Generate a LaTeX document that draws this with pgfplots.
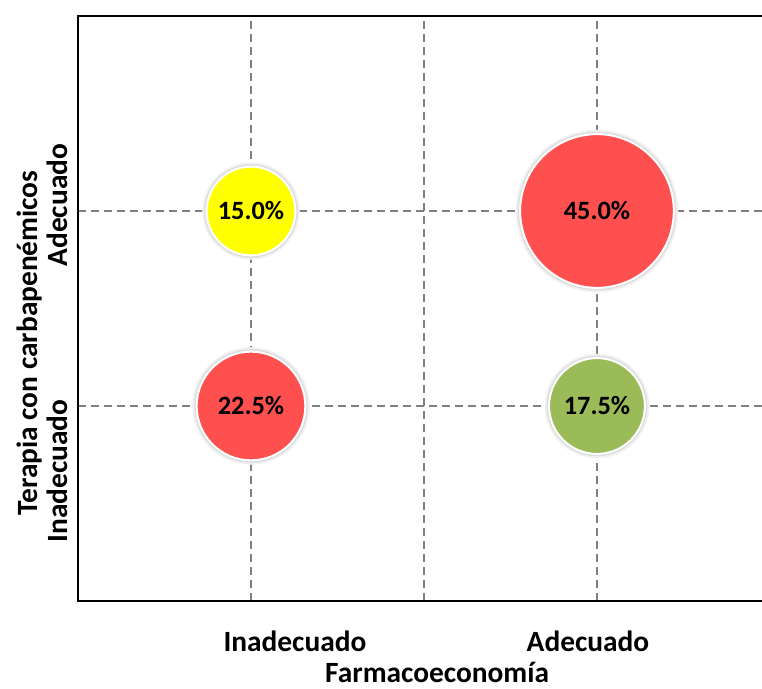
\documentclass[border=0pt]{standalone}
\usepackage{fontspec}
\setmainfont{Carlito}
\usepackage{pgfplots}
\pgfplotsset{compat=1.18}
\definecolor{bred}{HTML}{FF5050}
\definecolor{byellow}{HTML}{FFFF00}
\definecolor{bgreen}{HTML}{9BBB59}
\definecolor{gridgray}{HTML}{808080}
\newcommand{\lblfont}{\bfseries\fontsize{29.5}{33}\selectfont}
\newcommand{\valfont}{\bfseries\fontsize{26.5}{30}\selectfont}
\pgfplotstableread{
x y v
1 1 22.5
3 2 45.0
}\redbubbles
\pgfplotstableread{
x y v
1 2 15.0
}\yellowbubbles
\pgfplotstableread{
x y v
3 1 17.5
}\greenbubbles
\pgfplotsset{
  bubble/.style={scatter, only marks, mark=*,
    scatter/use mapped color={draw=white, fill=#1, line width=2bp},
    visualization depends on={11.5*sqrt(\thisrow{v}) \as \brad},
    scatter/@pre marker code/.append style={/tikz/mark size=\brad},
    point meta=\thisrow{v},
  },
  bshadow/.style 2 args={scatter, only marks, mark=*,
    scatter/use mapped color={draw=#1, fill=#1, line width=0.5bp},
    visualization depends on={11.5*sqrt(\thisrow{v})+#2 \as \brad},
    scatter/@pre marker code/.append style={/tikz/mark size=\brad},
    point meta=\thisrow{v},
  },
  blabel/.style={only marks, mark=none,
    visualization depends on={\thisrow{v} \as \bval},
    point meta=\thisrow{v},
    nodes near coords={\pgfmathprintnumber[assume math mode=true,fixed,fixed zerofill,precision=1]{\bval}\%},
    nodes near coords align=center,
    every node near coord/.append style={font=\valfont, text=black, anchor=center, inner sep=0pt},
  },
}
\begin{document}
\begin{tikzpicture}
\begin{axis}[
  scale only axis, width=684bp, height=585bp,
  xmin=0, xmax=3.954, ymin=0, ymax=3,
  xtick={1,2,3}, ytick={1,2}, xticklabels={}, yticklabels={},
  grid=major,
  major grid style={gridgray, line width=1.5bp, dash pattern=on 8bp off 5bp},
  axis line style={draw=none}, major tick length=0pt,
  clip=false,
  every axis label/.append style={font=\lblfont},
  xlabel={Farmacoeconomía}, ylabel={Terapia con carbapenémicos},
  xlabel style={at={(rel axis cs:0.525,-0.1214)}, anchor=center},
  ylabel style={at={(rel axis cs:-0.0702,0.441)}, anchor=center},
]
\coordinate (ll) at (rel axis cs:0,0);
\coordinate (ur) at (rel axis cs:1,1);
% soft halo
\addplot[bshadow={black!6}{4}] table[x=x,y=y] {\redbubbles};
\addplot[bshadow={black!6}{4}] table[x=x,y=y] {\yellowbubbles};
\addplot[bshadow={black!6}{4}] table[x=x,y=y] {\greenbubbles};
\addplot[bshadow={black!14}{2}] table[x=x,y=y] {\redbubbles};
\addplot[bshadow={black!14}{2}] table[x=x,y=y] {\yellowbubbles};
\addplot[bshadow={black!14}{2}] table[x=x,y=y] {\greenbubbles};
% bubbles
\addplot[bubble=bred] table[x=x, y=y] {\redbubbles};
\addplot[bubble=byellow] table[x=x, y=y] {\yellowbubbles};
\addplot[bubble=bgreen] table[x=x, y=y] {\greenbubbles};
% labels
\addplot[blabel] table[x=x, y=y] {\redbubbles};
\addplot[blabel] table[x=x, y=y] {\yellowbubbles};
\addplot[blabel] table[x=x, y=y] {\greenbubbles};
\draw[black, line width=2.5bp] (rel axis cs:1,1) -- (rel axis cs:0,1) -- (rel axis cs:0,0) -- (rel axis cs:1,0);
\node[font=\lblfont, anchor=center] at ([yshift=-40bp]axis cs:1.254,0) {Inadecuado};
\node[font=\lblfont, anchor=center] at ([yshift=-40bp]axis cs:2.948,0) {Adecuado};
\node[font=\lblfont, anchor=center, rotate=90] at ([xshift=-21bp]axis cs:0,0.667) {Inadecuado};
\node[font=\lblfont, anchor=center, rotate=90] at ([xshift=-21bp]axis cs:0,2.03) {Adecuado};
\end{axis}
\pgfresetboundingbox
\path[use as bounding box] ([shift={(-78bp,-88bp)}]ll) rectangle ([shift={(0bp,16bp)}]ur);
\end{tikzpicture}
\end{document}
